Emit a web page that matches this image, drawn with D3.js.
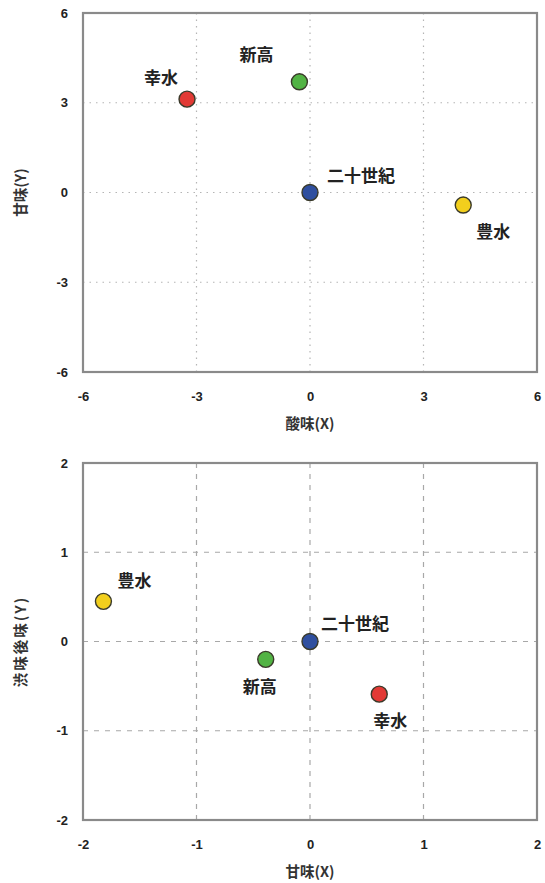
<!DOCTYPE html>
<html>
<head>
<meta charset="utf-8">
<script src="https://cdn.jsdelivr.net/npm/d3@7"></script>
<style>
  html, body { margin: 0; padding: 0; background: #fff; }
  svg { display: block; font-family: "Noto Sans CJK JP", "Noto Sans", sans-serif; }
</style>
</head>
<body>
<svg id="chart" width="545" height="883"></svg>
<script>
// Pear varieties and their sensory-map coordinates
const varieties = ["幸水", "新高", "二十世紀", "豊水"];
const colors = ["#e23a35", "#52b344", "#2f4f9f", "#f2cf1d"];

// Map 1: 酸味 (x) vs 甘味 (y)
const sourX = [-3.25, -0.28, 0, 4.05];
const sweetY = [3.12, 3.7, 0, -0.42];
const ticks1 = [-6, -3, 0, 3, 6];

// Map 2: 甘味 (x) vs 渋味後味 (y)
const sweetX = [0.61, -0.39, 0, -1.82];
const astrY = [-0.59, -0.2, 0, 0.45];
const ticks2 = [-2, -1, 0, 1, 2];

// label offsets relative to each point (dx, baseline dy)
const labelPos1 = [[-26, -15], [-43, -21], [51, -11], [30, 33]];
const labelPos2 = [[11, 33], [-6, 34], [45, -12], [31, -14]];

const svg = d3.select("#chart");

function panel(opts) {
  const { top, bottom, left, right, domain, ticks, xs, ys, xTitle, yTitle, labels, dash, gridColor } = opts;
  const x = d3.scaleLinear().domain(domain).range([left, right]);
  const y = d3.scaleLinear().domain(domain).range([bottom, top]);
  const g = svg.append("g");

  // grid lines at inner ticks
  const inner = ticks.slice(1, -1);
  g.selectAll(".gx").data(inner).enter().append("line")
    .attr("x1", d => x(d)).attr("x2", d => x(d))
    .attr("y1", top).attr("y2", bottom)
    .attr("stroke", gridColor).attr("stroke-width", 1.2)
    .attr("stroke-dasharray", dash);
  g.selectAll(".gy").data(inner).enter().append("line")
    .attr("y1", d => y(d)).attr("y2", d => y(d))
    .attr("x1", left).attr("x2", right)
    .attr("stroke", gridColor).attr("stroke-width", 1.2)
    .attr("stroke-dasharray", dash);

  // frame
  g.append("rect")
    .attr("x", left).attr("y", top)
    .attr("width", right - left).attr("height", bottom - top)
    .attr("fill", "none").attr("stroke", "#8a8a8a").attr("stroke-width", 2.2);

  const fmt = d => d < 0 ? "-" + Math.abs(d) : d;

  // axes (labels only)
  const gx = g.append("g").attr("transform", `translate(0,${bottom})`)
    .call(d3.axisBottom(x).tickValues(ticks).tickSize(0).tickPadding(20).tickFormat(fmt));
  gx.select(".domain").remove();
  gx.selectAll("text").attr("font-size", 13).attr("font-weight", 700).attr("fill", "#222");

  const gy = g.append("g").attr("transform", `translate(${left},0)`)
    .call(d3.axisLeft(y).tickValues(ticks).tickSize(0).tickPadding(15).tickFormat(fmt));
  gy.select(".domain").remove();
  gy.selectAll("text").attr("font-size", 13).attr("font-weight", 700).attr("fill", "#222");

  // axis titles
  g.append("text")
    .attr("x", (left + right) / 2).attr("y", bottom + 57)
    .attr("text-anchor", "middle").attr("font-size", 14.5).attr("font-weight", 700)
    .attr("fill", "#333").text(xTitle);
  g.append("text")
    .attr("transform", `translate(${left - 57},${(top + bottom) / 2}) rotate(-90)`)
    .attr("text-anchor", "middle").attr("font-size", 14.5).attr("font-weight", 700)
    .attr("letter-spacing", opts.ySpacing || 0)
    .attr("fill", "#333").text(yTitle);

  // points
  const data = varieties.map((name, i) => ({ name, color: colors[i], x: xs[i], y: ys[i], lp: labels[i] }));
  g.selectAll("circle.pt").data(data).enter().append("circle")
    .attr("class", "pt")
    .attr("cx", d => x(d.x)).attr("cy", d => y(d.y)).attr("r", 8)
    .attr("fill", d => d.color).attr("stroke", "#3a3a2a").attr("stroke-width", 1.4);

  g.selectAll("text.lbl").data(data).enter().append("text")
    .attr("class", "lbl")
    .attr("x", d => x(d.x) + d.lp[0]).attr("y", d => y(d.y) + d.lp[1])
    .attr("text-anchor", "middle").attr("font-size", 17).attr("font-weight", 700)
    .attr("fill", "#222").text(d => d.name);
}

panel({
  top: 13, bottom: 372, left: 83, right: 537,
  domain: [-6, 6], ticks: ticks1, xs: sourX, ys: sweetY,
  xTitle: "酸味(X)", yTitle: "甘味(Y)", labels: labelPos1,
  dash: "1.5,5", gridColor: "#b5b5b5"
});

panel({
  top: 463, bottom: 820, left: 83, right: 537,
  domain: [-2, 2], ticks: ticks2, xs: sweetX, ys: astrY,
  xTitle: "甘味(X)", yTitle: "渋味後味(Y)", labels: labelPos2,
  dash: "5,6", gridColor: "#a8a8a8", ySpacing: 2
});
</script>
</body>
</html>
